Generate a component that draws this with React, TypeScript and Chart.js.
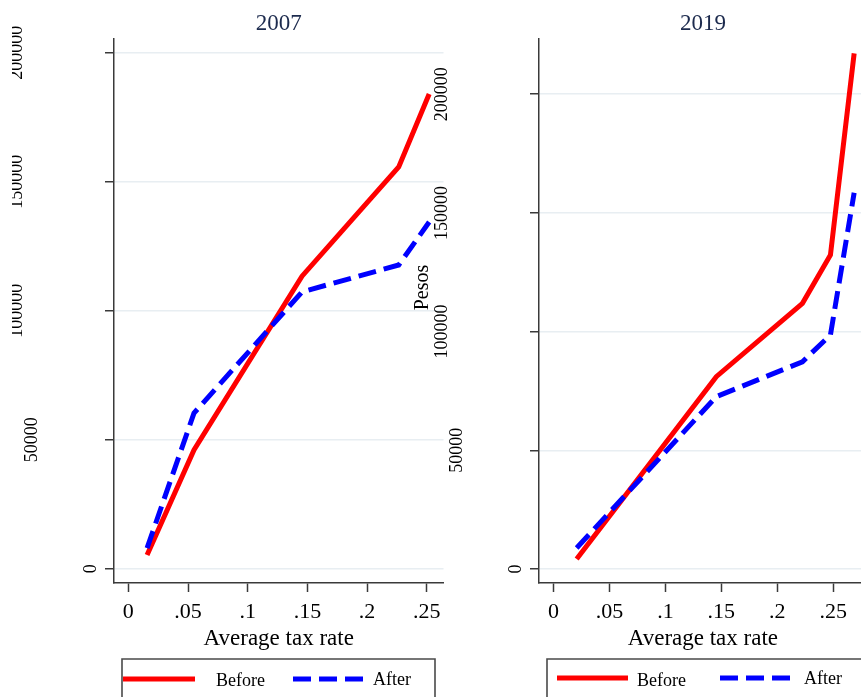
import React, { useEffect, useRef } from 'react';
import { Chart, registerables } from 'chart.js';

Chart.register(...registerables);

// ---------- data ----------
const xTickValues = [0, 0.05, 0.1, 0.15, 0.2, 0.25];
const xTickLabels = ['0', '.05', '.1', '.15', '.2', '.25'];
const yTickValues = [0, 50000, 100000, 150000, 200000];
const yTickLabels = ['0', '50000', '100000', '150000', '200000'];

const seriesNames = ['Before', 'After'];
const panelTitles = ['2007', '2019'];
const xAxisTitle = 'Average tax rate';
const yAxisTitle = 'Pesos';

const rate2007 = [0.0157, 0.055, 0.1455, 0.2265, 0.252];
const before2007 = [5300, 46000, 113400, 155700, 184000];
const after2007 = [8000, 60300, 107300, 117700, 134400];

const rate2019 = [0.0207, 0.1455, 0.2225, 0.2475, 0.2687];
const before2019 = [4200, 81000, 111900, 132300, 217200];
const after2019 = [8850, 72600, 87300, 98600, 158500];

// ---------- styling / layout ----------
const SERIF = "'Liberation Serif', 'Times New Roman', 'DejaVu Serif', serif";
const H = 697;
const RED = '#ff0000';
const BLUE = '#0000ff';
const DASH = [18, 8];
const AXIS = '#3a3a3a';
const GRID = 'rgb(232,238,242)';

type Panel = {
  title: string;
  left: number;
  width: number;
  areaLeft: number;
  areaRight: number;
  xMin: number;
  xMax: number;
  yMin: number;
  yMax: number;
  rates: number[];
  before: number[];
  after: number[];
  labelClipX: number;
  showYTitle: boolean;
  legend: {
    boxL: number; boxR: number; boxT: number;
    redL: number; redR: number; redY: number; beforeX: number; beforeY: number;
    blueL: number; blueR: number; blueY: number; afterX: number; afterY: number;
  };
};

const panels: Panel[] = [
  {
    title: panelTitles[0],
    left: 0,
    width: 450,
    areaLeft: 114,
    areaRight: 443.5,
    xMin: -0.012,
    xMax: 0.264,
    yMin: -5543,
    yMax: 205310,
    rates: rate2007,
    before: before2007,
    after: after2007,
    labelClipX: 12,
    showYTitle: false,
    legend: {
      boxL: 122, boxR: 435, boxT: 659,
      redL: 123, redR: 195, redY: 679, beforeX: 216, beforeY: 686,
      blueL: 293, blueR: 365, blueY: 679, afterX: 373, afterY: 685,
    },
  },
  {
    title: panelTitles[1],
    left: 400,
    width: 470,
    areaLeft: 139,
    areaRight: 466.8,
    xMin: -0.01296,
    xMax: 0.28,
    yMin: -5897,
    yMax: 223250,
    rates: rate2019,
    before: before2019,
    after: after2019,
    labelClipX: 0,
    showYTitle: true,
    legend: {
      boxL: 147, boxR: 490, boxT: 659,
      redL: 157, redR: 228, redY: 678, beforeX: 237, beforeY: 686,
      blueL: 320, blueR: 392, blueY: 678, afterX: 404, afterY: 684,
    },
  },
];

function decorPlugin(p: Panel) {
  return {
    id: 'decor',
    afterDraw(chart: any) {
      const ctx: CanvasRenderingContext2D = chart.ctx;
      const area = chart.chartArea;
      const yScale = chart.scales.y;

      // title
      ctx.save();
      ctx.fillStyle = '#1c2a4d';
      ctx.font = `23px ${SERIF}`;
      ctx.textAlign = 'center';
      ctx.textBaseline = 'alphabetic';
      ctx.fillText(p.title, (area.left + area.right) / 2, 30);
      ctx.restore();

      // rotated y tick labels
      ctx.save();
      ctx.beginPath();
      ctx.rect(p.labelClipX, 0, chart.width, chart.height);
      ctx.clip();
      ctx.font = `18px ${SERIF}`;
      ctx.fillStyle = '#000';
      yTickValues.forEach((v, i) => {
        const label = yTickLabels[i];
        const y = yScale.getPixelForValue(v);
        const w = ctx.measureText(label).width;
        const bx = area.left - (3.2 + 1.64 * w);
        ctx.save();
        ctx.translate(bx, y);
        ctx.rotate(-Math.PI / 2);
        ctx.textAlign = 'center';
        ctx.textBaseline = 'alphabetic';
        ctx.fillText(label, 0, 0);
        ctx.restore();
      });
      ctx.restore();

      // y axis title
      if (p.showYTitle) {
        ctx.save();
        ctx.font = `20px ${SERIF}`;
        ctx.fillStyle = '#000';
        ctx.translate(28, 287.5);
        ctx.rotate(-Math.PI / 2);
        ctx.textAlign = 'center';
        ctx.textBaseline = 'alphabetic';
        ctx.fillText(yAxisTitle, 0, 0);
        ctx.restore();
      }

      // legend
      const L = p.legend;
      ctx.save();
      ctx.fillStyle = '#fff';
      ctx.strokeStyle = '#4a4a4a';
      ctx.lineWidth = 1.6;
      ctx.beginPath();
      ctx.rect(L.boxL, L.boxT, L.boxR - L.boxL, 80);
      ctx.fill();
      ctx.stroke();

      ctx.lineWidth = 5;
      ctx.lineCap = 'butt';
      ctx.strokeStyle = RED;
      ctx.setLineDash([]);
      ctx.beginPath();
      ctx.moveTo(L.redL, L.redY);
      ctx.lineTo(L.redR, L.redY);
      ctx.stroke();

      ctx.strokeStyle = BLUE;
      ctx.setLineDash(DASH);
      ctx.beginPath();
      ctx.moveTo(L.blueL, L.blueY);
      ctx.lineTo(L.blueR, L.blueY);
      ctx.stroke();
      ctx.setLineDash([]);

      ctx.fillStyle = '#000';
      ctx.font = `18px ${SERIF}`;
      ctx.textAlign = 'left';
      ctx.textBaseline = 'alphabetic';
      ctx.fillText(seriesNames[0], L.beforeX, L.beforeY);
      ctx.fillText(seriesNames[1], L.afterX, L.afterY);
      ctx.restore();
    },
  };
}

function makeChart(canvas: HTMLCanvasElement, p: Panel) {
  return new Chart(canvas, {
    type: 'line',
    data: {
      datasets: [
        {
          label: seriesNames[0],
          data: p.rates.map((x, i) => ({ x, y: p.before[i] })),
          borderColor: RED,
          backgroundColor: RED,
          borderWidth: 5,
          pointRadius: 0,
          tension: 0,
          fill: false,
          order: 2,
        },
        {
          label: seriesNames[1],
          data: p.rates.map((x, i) => ({ x, y: p.after[i] })),
          borderColor: BLUE,
          backgroundColor: BLUE,
          borderWidth: 5,
          borderDash: DASH,
          pointRadius: 0,
          tension: 0,
          fill: false,
          order: 1,
        },
      ],
    },
    options: {
      responsive: false,
      animation: false,
      events: [],
      layout: { padding: { left: 0, right: p.width - p.areaRight, top: 39, bottom: 0 } },
      plugins: {
        legend: { display: false },
        tooltip: { enabled: false },
        title: { display: false },
      },
      scales: {
        x: {
          type: 'linear',
          position: 'bottom',
          min: p.xMin,
          max: p.xMax,
          afterBuildTicks: (s: any) => {
            s.ticks = xTickValues.map((v) => ({ value: v }));
          },
          afterFit: (s: any) => {
            s.height = H - 583;
          },
          ticks: {
            autoSkip: false,
            maxRotation: 0,
            minRotation: 0,
            padding: 7,
            color: '#000',
            font: { family: SERIF, size: 22 },
            callback: (_v: any, i: number) => xTickLabels[i],
          },
          grid: {
            drawOnChartArea: false,
            drawTicks: true,
            tickLength: 9,
            tickColor: AXIS,
            tickWidth: 1.5,
          },
          border: { display: true, color: AXIS, width: 1.5 },
          title: {
            display: true,
            text: xAxisTitle,
            color: '#000',
            font: { family: SERIF, size: 23 },
            padding: { top: 0, bottom: 44 },
          },
        },
        y: {
          type: 'linear',
          position: 'left',
          min: p.yMin,
          max: p.yMax,
          afterBuildTicks: (s: any) => {
            s.ticks = yTickValues.map((v) => ({ value: v }));
          },
          afterFit: (s: any) => {
            s.width = p.areaLeft;
          },
          ticks: { display: false },
          grid: {
            color: GRID,
            lineWidth: 1.5,
            drawTicks: true,
            tickLength: 9,
            tickColor: AXIS,
            tickWidth: 1.5,
          },
          border: { display: true, color: AXIS, width: 1.5 },
        },
      },
    } as any,
    plugins: [decorPlugin(p)],
  });
}

function PanelCanvas({ p }: { p: Panel }) {
  const ref = useRef<HTMLCanvasElement | null>(null);
  useEffect(() => {
    if (!ref.current) return;
    const chart = makeChart(ref.current, p);
    return () => chart.destroy();
  }, [p]);
  return (
    <canvas
      ref={ref}
      width={p.width}
      height={H}
      style={{ position: 'absolute', left: p.left, top: 0, width: p.width, height: H }}
    />
  );
}

export default function App() {
  return (
    <div
      style={{
        position: 'fixed',
        left: 0,
        top: 0,
        width: 861,
        height: H,
        overflow: 'hidden',
        background: '#fff',
      }}
    >
      {panels.map((p) => (
        <PanelCanvas key={p.title} p={p} />
      ))}
    </div>
  );
}
